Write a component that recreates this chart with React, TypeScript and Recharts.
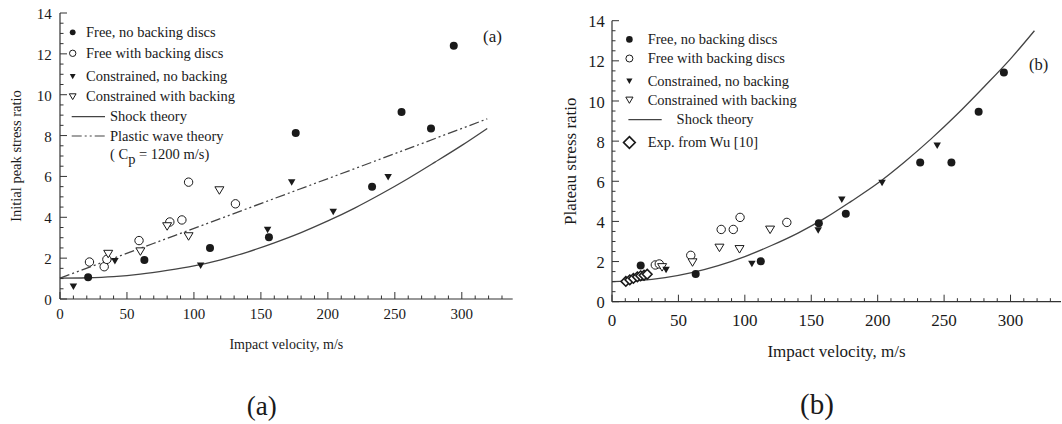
import React from "react";
import { ComposedChart, Scatter, Line, XAxis, YAxis, Legend, Label } from "recharts";

const FONT = '"Liberation Serif", "Times New Roman", serif';
const INK = "#1a1a1a";
const AXIS = "#333";

// ---- panel (a): initial peak stress ratio ----
const A_FREE_NO_BACKING = [
  { x: 21, y: 1.06 }, { x: 63, y: 1.91 }, { x: 112, y: 2.5 }, { x: 156, y: 3.02 },
  { x: 176, y: 8.12 }, { x: 233, y: 5.5 }, { x: 255, y: 9.15 }, { x: 277, y: 8.35 }, { x: 294, y: 12.4 },
];
const A_FREE_BACKING = [
  { x: 22, y: 1.81 }, { x: 33, y: 1.58 }, { x: 35, y: 1.94 }, { x: 59, y: 2.86 },
  { x: 82, y: 3.77 }, { x: 91, y: 3.87 }, { x: 96, y: 5.72 }, { x: 131, y: 4.66 },
];
const A_CONSTRAINED_NO_BACKING = [
  { x: 10, y: 0.6 }, { x: 41, y: 1.85 }, { x: 105, y: 1.63 }, { x: 155, y: 3.38 },
  { x: 173, y: 5.7 }, { x: 204, y: 4.26 }, { x: 245, y: 5.96 },
];
const A_CONSTRAINED_BACKING = [
  { x: 36, y: 2.2 }, { x: 60, y: 2.32 }, { x: 80, y: 3.55 }, { x: 96, y: 3.06 }, { x: 119, y: 5.31 },
];
const A_SHOCK = [
  { x: 0, y: 1.02 }, { x: 20, y: 1.04 }, { x: 40, y: 1.1 }, { x: 60, y: 1.22 }, { x: 80, y: 1.4 },
  { x: 100, y: 1.62 }, { x: 120, y: 1.92 }, { x: 140, y: 2.3 }, { x: 160, y: 2.75 }, { x: 180, y: 3.25 },
  { x: 200, y: 3.82 }, { x: 220, y: 4.45 }, { x: 240, y: 5.15 }, { x: 260, y: 5.9 }, { x: 280, y: 6.7 },
  { x: 300, y: 7.52 }, { x: 319, y: 8.35 },
];
const A_PLASTIC = [
  { x: 0, y: 1.02 }, { x: 80, y: 2.97 }, { x: 160, y: 4.92 }, { x: 240, y: 6.87 }, { x: 319, y: 8.82 },
];

// ---- panel (b): plateau stress ratio ----
const B_FREE_NO_BACKING = [
  { x: 21.6, y: 1.8 }, { x: 63, y: 1.38 }, { x: 112, y: 2.01 }, { x: 155.7, y: 3.91 }, { x: 176, y: 4.38 },
  { x: 232, y: 6.93 }, { x: 255.5, y: 6.94 }, { x: 276, y: 9.46 }, { x: 295, y: 11.42 },
];
const B_FREE_BACKING = [
  { x: 32.6, y: 1.83 }, { x: 35.6, y: 1.88 }, { x: 59.3, y: 2.31 }, { x: 82.2, y: 3.6 },
  { x: 91.3, y: 3.6 }, { x: 96.4, y: 4.2 }, { x: 131.6, y: 3.95 },
];
const B_CONSTRAINED_NO_BACKING = [
  { x: 40.7, y: 1.58 }, { x: 105.3, y: 1.88 }, { x: 155.2, y: 3.55 }, { x: 173, y: 5.08 },
  { x: 203.3, y: 5.91 }, { x: 244.8, y: 7.77 },
];
const B_CONSTRAINED_BACKING = [
  { x: 37.7, y: 1.71 }, { x: 60.6, y: 1.95 }, { x: 80.9, y: 2.68 }, { x: 96, y: 2.61 }, { x: 119, y: 3.58 },
];
const B_WU = [
  { x: 10.4, y: 1.01 }, { x: 13.4, y: 1.09 }, { x: 16.1, y: 1.16 }, { x: 19.1, y: 1.24 },
  { x: 21.6, y: 1.29 }, { x: 24.1, y: 1.32 }, { x: 26.5, y: 1.37 },
];
const B_SHOCK = [
  { x: 0, y: 1.0 }, { x: 20, y: 1.05 }, { x: 40, y: 1.2 }, { x: 60, y: 1.45 }, { x: 80, y: 1.8 },
  { x: 100, y: 2.25 }, { x: 120, y: 2.8 }, { x: 140, y: 3.42 }, { x: 160, y: 4.15 }, { x: 180, y: 5.0 },
  { x: 200, y: 5.9 }, { x: 220, y: 6.95 }, { x: 240, y: 8.1 }, { x: 260, y: 9.35 }, { x: 280, y: 10.7 },
  { x: 300, y: 12.1 }, { x: 318, y: 13.5 },
];

// ticks: labelled majors + minor marks
const X_DOMAIN: [number, number] = [0, 338];
const Y_DOMAIN: [number, number] = [0, 14];
const X_MAJOR_STEP = 50;
const Y_MAJOR_STEP = 2;
const X_TICKS: number[] = [];
for (let v = 0; v <= 330; v += 10) X_TICKS.push(v);
const Y_TICKS: number[] = [];
for (let v = 0; v <= 14; v += 0.5) Y_TICKS.push(v);

type Side = "bottom" | "top" | "left" | "right";
type TickCfg = { side: Side; step: number; fontSize?: number; offset?: number; label?: boolean };

function isMajor(v: number, step: number) {
  const r = v / step;
  return Math.abs(r - Math.round(r)) < 1e-6;
}

function tickRenderer(cfg: TickCfg) {
  return (props: any) => {
    const x = Number(props.x);
    const y = Number(props.y);
    const v = Number(props.payload?.value);
    const major = isMajor(v, cfg.step);
    const len = major ? 7 : 3.5;
    let x2 = x;
    let y2 = y;
    if (cfg.side === "bottom") y2 = y - len;
    if (cfg.side === "top") y2 = y + len;
    if (cfg.side === "left") x2 = x + len;
    if (cfg.side === "right") x2 = x - len;
    let text: React.ReactNode = null;
    if (cfg.label && major) {
      const style = { fontFamily: FONT, fontSize: cfg.fontSize, fill: INK };
      if (cfg.side === "bottom")
        text = <text x={x} y={y + (cfg.offset || 0)} textAnchor="middle" style={style}>{v}</text>;
      if (cfg.side === "left")
        text = <text x={x - (cfg.offset || 0)} y={y} dy="0.4em" textAnchor="end" style={style}>{v}</text>;
    }
    return (
      <g>
        <line x1={x} y1={y} x2={x2} y2={y2} stroke={AXIS} strokeWidth={1} />
        {text}
      </g>
    );
  };
}

// markers
const FilledDot = (p: any) => <circle cx={p.cx} cy={p.cy} r={4} fill={INK} />;
const OpenDot = (p: any) => <circle cx={p.cx} cy={p.cy} r={4.2} fill="#fff" stroke={INK} strokeWidth={1} />;
const tri = (cx: number, cy: number, w: number, h: number) =>
  `${cx - w / 2},${cy - h / 2} ${cx + w / 2},${cy - h / 2} ${cx},${cy + h / 2}`;
const FilledTri = (p: any) => <polygon points={tri(p.cx, p.cy, 7.5, 6.5)} fill={INK} />;
const OpenTri = (p: any) => <polygon points={tri(p.cx, p.cy, 9, 7.5)} fill="#fff" stroke={INK} strokeWidth={1} />;
const diamond = (cx: number, cy: number, r: number) =>
  `${cx},${cy - r} ${cx + r},${cy} ${cx},${cy + r} ${cx - r},${cy}`;
const OpenDiamond = (p: any) => (
  <polygon points={diamond(p.cx, p.cy, 4.8)} fill="#fff" stroke={INK} strokeWidth={1.6} />
);

const textStyle = { fontFamily: FONT, fill: INK } as const;

function LegendA() {
  const mx = 72.7;
  const tx = 86;
  const fs = 14.5;
  return (
    <svg width={530} height={424} style={{ display: "block" }}>
      <circle cx={mx} cy={32.3} r={2.9} fill={INK} />
      <text x={tx} y={36.8} fontSize={fs} style={textStyle}>Free, no backing discs</text>
      <circle cx={mx} cy={53.3} r={3.2} fill="#fff" stroke={INK} />
      <text x={tx} y={57.8} fontSize={fs} style={textStyle}>Free with backing discs</text>
      <polygon points={tri(mx, 76.7, 5.8, 5.2)} fill={INK} />
      <text x={tx} y={81.2} fontSize={fs} style={textStyle}>Constrained, no backing</text>
      <polygon points={tri(mx, 96.7, 6.8, 5.8)} fill="#fff" stroke={INK} />
      <text x={tx} y={101.2} fontSize={fs} style={textStyle}>Constrained with backing</text>
      <line x1={71.7} y1={116.7} x2={105} y2={116.7} stroke="#444" strokeWidth={1.2} />
      <text x={110} y={121.2} fontSize={fs} style={textStyle}>Shock theory</text>
      <line x1={71.7} y1={136} x2={105} y2={136} stroke="#444" strokeWidth={1.2} strokeDasharray="10 3 2 3 2 3" />
      <text x={110} y={140.5} fontSize={fs} style={textStyle}>Plastic wave theory</text>
      <text x={110} y={158.5} fontSize={fs} style={textStyle}>
        <tspan>( C</tspan>
        <tspan dy={5}>p</tspan>
        <tspan dy={-5}> = 1200 m/s)</tspan>
      </text>
      <text x={483} y={41.6} fontSize={17} style={textStyle}>(a)</text>
      <text x={261.7} y={415} fontSize={27} textAnchor="middle" style={textStyle}>(a)</text>
    </svg>
  );
}

function LegendB() {
  const mx = 99.4;
  const tx = 117.7;
  const fs = 14.5;
  return (
    <svg width={532} height={424} style={{ display: "block" }}>
      <circle cx={mx} cy={39.4} r={3.3} fill={INK} />
      <text x={tx} y={43.9} fontSize={fs} style={textStyle}>Free, no backing discs</text>
      <circle cx={mx} cy={58.5} r={3.5} fill="#fff" stroke={INK} />
      <text x={tx} y={63} fontSize={fs} style={textStyle}>Free with backing discs</text>
      <polygon points={tri(mx, 81.2, 6.2, 5.6)} fill={INK} />
      <text x={tx} y={85.7} fontSize={fs} style={textStyle}>Constrained, no backing</text>
      <polygon points={tri(mx, 100.2, 7.2, 6.2)} fill="#fff" stroke={INK} />
      <text x={tx} y={104.7} fontSize={fs} style={textStyle}>Constrained with backing</text>
      <line x1={98.4} y1={119.6} x2={131.7} y2={119.6} stroke="#444" strokeWidth={1.2} />
      <text x={146.6} y={124.1} fontSize={fs} style={textStyle}>Shock theory</text>
      <polygon points={diamond(mx, 142.5, 5.8)} fill="#fff" stroke={INK} strokeWidth={1.7} />
      <text x={tx} y={147} fontSize={fs} style={textStyle}>Exp. from Wu [10]</text>
      <text x={499} y={70} fontSize={16.5} style={textStyle}>(b)</text>
      <text x={287} y={414} fontSize={29} textAnchor="middle" style={textStyle}>(b)</text>
    </svg>
  );
}

type PanelProps = {
  width: number;
  margin: { top: number; right: number; bottom: number; left: number };
  yWidth: number;
  xHeight: number;
  xFont: number;
  xOffset: number;
  yFont: number;
  yGap: number;
  yTitle: string;
  yTitleFont: number;
  yTitleOffset: number;
  xTitleFont: number;
  xTitleOffset: number;
  legend: () => React.ReactNode;
  children: React.ReactNode;
};

function Panel(p: PanelProps) {
  return (
    <ComposedChart width={p.width} height={424} margin={p.margin}>
      <XAxis
        xAxisId="b" dataKey="x" type="number" domain={X_DOMAIN} ticks={X_TICKS} interval={0}
        height={p.xHeight} tickSize={0} tickMargin={0} tickLine={false}
        axisLine={{ stroke: AXIS, strokeWidth: 1.2 }}
        tick={tickRenderer({ side: "bottom", step: X_MAJOR_STEP, label: true, fontSize: p.xFont, offset: p.xOffset })}
      >
        <Label value="Impact velocity, m/s" position="insideBottom" offset={p.xTitleOffset}
          style={{ fontFamily: FONT, fontSize: p.xTitleFont, fill: INK }} />
      </XAxis>
      <XAxis
        xAxisId="t" orientation="top" type="number" domain={X_DOMAIN} ticks={X_TICKS} interval={0}
        height={0} tickSize={0} tickMargin={0} tickLine={false}
        axisLine={{ stroke: AXIS, strokeWidth: 1.2 }}
        tick={tickRenderer({ side: "top", step: X_MAJOR_STEP })}
      />
      <YAxis
        yAxisId="l" dataKey="y" type="number" domain={Y_DOMAIN} ticks={Y_TICKS} interval={0}
        width={p.yWidth} tickSize={0} tickMargin={0} tickLine={false}
        axisLine={{ stroke: AXIS, strokeWidth: 1.2 }}
        tick={tickRenderer({ side: "left", step: Y_MAJOR_STEP, label: true, fontSize: p.yFont, offset: p.yGap })}
      >
        <Label value={p.yTitle} angle={-90} position="insideLeft" offset={p.yTitleOffset}
          style={{ fontFamily: FONT, fontSize: p.yTitleFont, fill: INK, textAnchor: "middle" }} />
      </YAxis>
      <YAxis
        yAxisId="r" orientation="right" type="number" domain={Y_DOMAIN} ticks={Y_TICKS} interval={0}
        width={0} tickSize={0} tickMargin={0} tickLine={false}
        axisLine={{ stroke: AXIS, strokeWidth: 1.2 }}
        tick={tickRenderer({ side: "right", step: Y_MAJOR_STEP })}
      />
      {p.children}
      <Legend
        layout="vertical" align="center" verticalAlign="middle"
        wrapperStyle={{ left: 0, top: 0, width: p.width, height: 424, pointerEvents: "none" }}
        content={() => p.legend()}
      />
    </ComposedChart>
  );
}

export default function App() {
  return (
    <div style={{ position: "absolute", left: 0, top: 0, width: 1062, height: 424, background: "#fff", overflow: "hidden" }}>
      <div style={{ position: "absolute", left: 0, top: 0 }}>
        <Panel
          width={530} margin={{ top: 13, right: 17.3, bottom: 0, left: 0 }} yWidth={60} xHeight={125}
          xFont={15} xOffset={20} yFont={15} yGap={8.3}
          yTitle="Initial peak stress ratio" yTitleFont={14.5} yTitleOffset={16}
          xTitleFont={14} xTitleOffset={75} legend={() => <LegendA />}
        >
          <Line xAxisId="b" yAxisId="l" data={A_SHOCK} dataKey="y" type="monotone" dot={false}
            stroke="#444" strokeWidth={1.3} isAnimationActive={false} />
          <Line xAxisId="b" yAxisId="l" data={A_PLASTIC} dataKey="y" type="monotone" dot={false}
            stroke="#444" strokeWidth={1.3} strokeDasharray="10 3 2 3 2 3" isAnimationActive={false} />
          <Scatter xAxisId="b" yAxisId="l" data={A_FREE_BACKING} shape={OpenDot} isAnimationActive={false} />
          <Scatter xAxisId="b" yAxisId="l" data={A_CONSTRAINED_BACKING} shape={OpenTri} isAnimationActive={false} />
          <Scatter xAxisId="b" yAxisId="l" data={A_FREE_NO_BACKING} shape={FilledDot} isAnimationActive={false} />
          <Scatter xAxisId="b" yAxisId="l" data={A_CONSTRAINED_NO_BACKING} shape={FilledTri} isAnimationActive={false} />
        </Panel>
      </div>
      <div style={{ position: "absolute", left: 530, top: 0 }}>
        <Panel
          width={532} margin={{ top: 20.7, right: 1, bottom: 0, left: 0 }} yWidth={82} xHeight={122.3}
          xFont={17} xOffset={24} yFont={16.5} yGap={7.3}
          yTitle="Plateau stress ratio" yTitleFont={17} yTitleOffset={40}
          xTitleFont={17} xTitleOffset={67.5} legend={() => <LegendB />}
        >
          <Line xAxisId="b" yAxisId="l" data={B_SHOCK} dataKey="y" type="monotone" dot={false}
            stroke="#444" strokeWidth={1.3} isAnimationActive={false} />
          <Scatter xAxisId="b" yAxisId="l" data={B_WU} shape={OpenDiamond} isAnimationActive={false} />
          <Scatter xAxisId="b" yAxisId="l" data={B_FREE_BACKING} shape={OpenDot} isAnimationActive={false} />
          <Scatter xAxisId="b" yAxisId="l" data={B_CONSTRAINED_BACKING} shape={OpenTri} isAnimationActive={false} />
          <Scatter xAxisId="b" yAxisId="l" data={B_FREE_NO_BACKING} shape={FilledDot} isAnimationActive={false} />
          <Scatter xAxisId="b" yAxisId="l" data={B_CONSTRAINED_NO_BACKING} shape={FilledTri} isAnimationActive={false} />
        </Panel>
      </div>
    </div>
  );
}
